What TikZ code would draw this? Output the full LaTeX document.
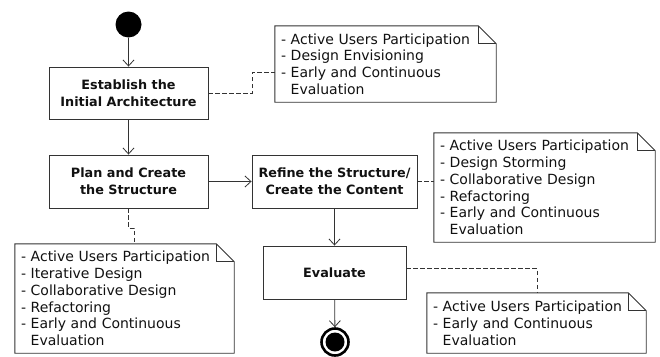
\documentclass[tikz,border=0pt]{standalone}
\usepackage{fontspec}
\setmainfont{DejaVu Sans}
\usetikzlibrary{arrows.meta,calc}
\definecolor{edgec}{HTML}{333333}
\definecolor{txtc}{HTML}{111111}
\tikzset{
  actbox/.style={draw=edgec, line width=0.9pt, rectangle, inner sep=2pt, align=center,
    font=\fontsize{12.8}{17}\selectfont\bfseries, text=txtc},
  notebox/.style={rectangle, inner xsep=6pt, inner ysep=0pt, align=left,
    font=\fontsize{14}{16.8}\selectfont, text=txtc},
  flow/.style={draw=edgec, line width=0.8pt, -{Straight Barb[length=6pt,width=11pt,line width=0.8pt]}},
  link/.style={draw=edgec, line width=0.8pt, dash pattern=on 4.5pt off 2.5pt},
  noteline/.style={draw=edgec, line width=0.9pt},
}
\begin{document}
\begin{tikzpicture}[x=1pt,y=-1pt]
\useasboundingbox (0,0) rectangle (660,356);

\node[circle, fill=black, minimum size=26pt, inner sep=0pt] (start) at (128.5,24.5) {};
\node[actbox, minimum width=159pt, minimum height=52pt] (est) at (128.5,93) {Establish the\\Initial Architecture};
\node[actbox, minimum width=159pt, minimum height=53pt] (plan) at (128.5,181.5) {Plan and Create\\the Structure};
\node[actbox, minimum width=165pt, minimum height=53pt] (ref) at (334.5,181.5) {Refine the Structure/\\Create the Content};
\node[actbox, minimum width=143pt, minimum height=53pt] (eval) at (334.5,272.5) {Evaluate};
\node[circle, draw=black, line width=2.6pt, minimum size=27pt, inner sep=0pt] (end) at (335,342) {};
\fill[black] (end.center) circle (9.5pt);

\node[notebox, minimum width=221pt, minimum height=76pt, text width=209pt] (n1) at (385.5,64)
  {- Active Users Participation\\- Design Envisioning\\- Early and Continuous\\\phantom{- }Evaluation};
\node[notebox, minimum width=221pt, minimum height=109pt, text width=209pt] (n2) at (544.5,187.5)
  {- Active Users Participation\\- Design Storming\\- Collaborative Design\\- Refactoring\\- Early and Continuous\\\phantom{- }Evaluation};
\node[notebox, minimum width=219pt, minimum height=109pt, text width=207pt] (n3) at (124.5,298.5)
  {- Active Users Participation\\- Iterative Design\\- Collaborative Design\\- Refactoring\\- Early and Continuous\\\phantom{- }Evaluation};
\node[notebox, minimum width=219pt, minimum height=60pt, text width=207pt] (n4) at (536.5,323)
  {- Active Users Participation\\- Early and Continuous\\\phantom{- }Evaluation};

\foreach \n in {n1,n2,n3,n4}{
  \draw[noteline] (\n.north west) -- ([xshift=-18pt]\n.north east)
    -- ([yshift=-18pt]\n.north east) -- (\n.south east) -- (\n.south west) -- cycle;
  \draw[noteline] ([xshift=-18pt]\n.north east) -- ([xshift=-18pt,yshift=-18pt]\n.north east)
    -- ([yshift=-18pt]\n.north east);
}

\draw[flow] (start) -- (est);
\draw[flow] (est) -- (plan);
\draw[flow] (plan) -- (ref);
\draw[flow] (ref) -- (eval);
\draw[flow] (eval) -- (end);

\draw[link] (est.east) -- ++(44,0) |- ([yshift=-8pt]n1.west);
\draw[link] (ref.east) -- (n2.west |- ref.east);
\draw[link] (plan.south) -- ++(0,20) -| ([xshift=9.5pt]n3.north);
\draw[link] ([yshift=4pt]eval.east) -| ([xshift=0.5pt]n4.north);
\end{tikzpicture}
\end{document}
